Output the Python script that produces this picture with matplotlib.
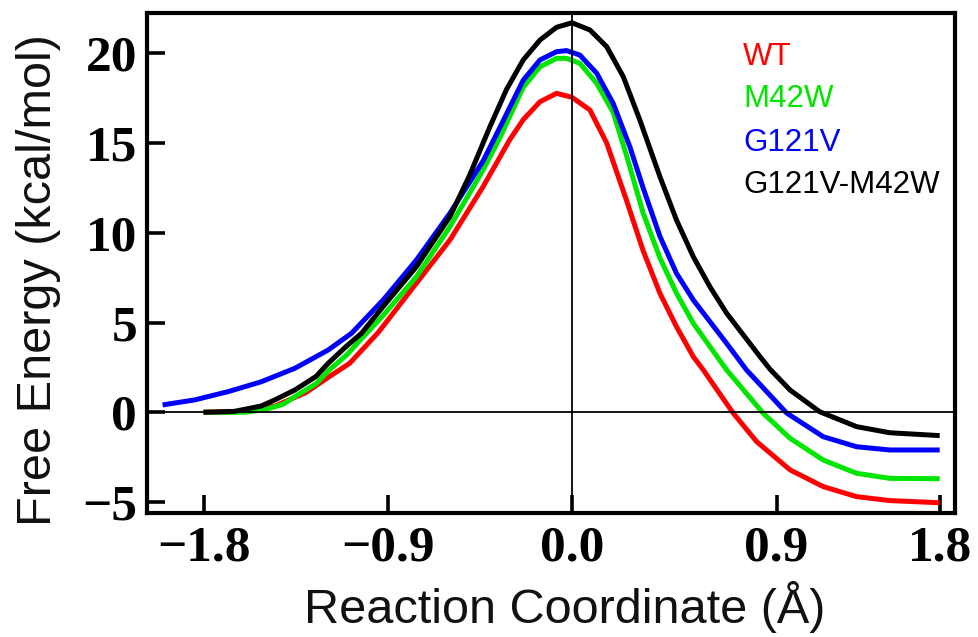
import matplotlib
matplotlib.use("Agg")
import matplotlib.pyplot as plt

# ---------------- data ----------------
series_names = ["WT", "M42W", "G121V", "G121V-M42W"]
series_colors = ["#ff0000", "#00e600", "#0000ff", "#000000"]

wt_x = [-1.80, -1.60, -1.45, -1.30, -1.19, -1.086, -0.946, -0.76, -0.596, -0.434,
        -0.303, -0.238, -0.156, -0.075, 0.0, 0.088, 0.17, 0.267, 0.348, 0.43,
        0.511, 0.593, 0.642, 0.70, 0.789, 0.903, 1.066, 1.228, 1.391, 1.553, 1.797]
wt_y = [0.0, 0.05, 0.35, 1.1, 1.95, 2.73, 4.45, 7.19, 9.6, 12.57,
        15.2, 16.3, 17.3, 17.77, 17.55, 16.84, 15.0, 11.8, 9.0, 6.63,
        4.77, 3.1, 2.36, 1.4, -0.06, -1.64, -3.21, -4.14, -4.70, -4.92, -5.04]

m42w_x = [-1.80, -1.60, -1.50, -1.411, -1.354, -1.249, -1.191, -1.10, -1.028, -0.922,
          -0.76, -0.596, -0.434, -0.352, -0.238, -0.156, -0.075, -0.026, 0.039, 0.121,
          0.202, 0.267, 0.348, 0.43, 0.511, 0.593, 0.756, 0.935, 1.066, 1.228, 1.391,
          1.553, 1.797]
m42w_y = [0.0, 0.0, 0.15, 0.45, 0.87, 1.6, 2.3, 3.2, 4.1, 5.4,
          7.55, 10.34, 13.5, 15.3, 18.1, 19.25, 19.72, 19.72, 19.44, 18.33,
          16.7, 14.3, 11.1, 8.6, 6.63, 4.96, 2.36, -0.06, -1.45, -2.66, -3.40,
          -3.68, -3.70]

g121v_x = [-2.0, -1.843, -1.680, -1.518, -1.354, -1.191, -1.077, -0.922, -0.76, -0.596,
           -0.434, -0.368, -0.238, -0.156, -0.075, -0.026, 0.039, 0.121, 0.202, 0.283,
           0.348, 0.43, 0.511, 0.593, 0.756, 0.853, 1.049, 1.228, 1.391, 1.553, 1.797]
g121v_y = [0.41, 0.69, 1.15, 1.70, 2.45, 3.47, 4.4, 6.26, 8.48, 11.09,
           14.0, 15.5, 18.5, 19.63, 20.09, 20.15, 19.9, 18.89, 17.2, 14.8,
           12.5, 9.8, 7.74, 6.26, 3.84, 2.36, -0.04, -1.36, -1.92, -2.1, -2.1]

dbl_x = [-1.80, -1.65, -1.518, -1.45, -1.354, -1.25, -1.191, -1.10, -1.028, -0.922,
         -0.76, -0.596, -0.5, -0.401, -0.319, -0.238, -0.156, -0.075, 0.0, 0.088,
         0.17, 0.251, 0.332, 0.43, 0.511, 0.593, 0.674, 0.756, 0.919, 0.968, 1.066,
         1.211, 1.391, 1.553, 1.797]
dbl_y = [0.0, 0.05, 0.35, 0.7, 1.24, 2.0, 2.73, 3.7, 4.4, 5.9,
         8.11, 10.9, 13.2, 15.9, 18.0, 19.63, 20.74, 21.45, 21.7, 21.3,
         20.37, 18.7, 16.28, 13.13, 10.71, 8.67, 7.0, 5.52, 3.1, 2.4, 1.24,
         0.03, -0.80, -1.14, -1.30]

xtick_pos = [-1.8, -0.9, 0.0, 1.0, 1.8]
xtick_labels = ["\u22121.8", "\u22120.9", "0.0", "0.9", "1.8"]
ytick_pos = [-5, 0, 5, 10, 15, 20]
ytick_labels = ["\u22125", "0", "5", "10", "15", "20"]

# ---------------- figure ----------------
fig = plt.figure(figsize=(9.79, 6.37), dpi=100)
ax = fig.add_axes([0.150, 0.1947, 0.8255, 0.7853])

xs = [wt_x, m42w_x, g121v_x, dbl_x]
ys = [wt_y, m42w_y, g121v_y, dbl_y]
for x, y, c, n in zip(xs, ys, series_colors, series_names):
    ax.plot(x, y, color=c, lw=3.6, solid_capstyle="butt", solid_joinstyle="round",
            label=n, zorder=3)

ax.axhline(0, color="black", lw=1.3, zorder=4)
ax.axvline(0, color="black", lw=1.3, zorder=4)

ax.set_xlim(-2.077, 1.872)
ax.set_ylim(-5.61, 22.26)

ax.set_xticks(xtick_pos)
ax.set_xticklabels(xtick_labels)
ax.set_yticks(ytick_pos)
ax.set_yticklabels(ytick_labels)

for lab in ax.get_xticklabels() + ax.get_yticklabels():
    lab.set_fontfamily("Liberation Serif")
    lab.set_fontweight("bold")
    lab.set_fontsize(37)

ax.tick_params(axis="both", direction="in", length=13, width=2.6,
               top=False, right=False)
ax.tick_params(axis="x", pad=9)
ax.tick_params(axis="y", pad=7)

for sp in ax.spines.values():
    sp.set_linewidth(3.0)

ax.set_xlabel("Reaction Coordinate (\u00c5)", family="Liberation Sans", fontsize=35,
              color="#111111")
ax.set_ylabel("Free Energy (kcal/mol)", family="Liberation Sans", fontsize=35,
              color="#111111")
ax.xaxis.label.set_va("center")
ax.yaxis.label.set_va("center")
ax.xaxis.set_label_coords(0.517, -0.188)
ax.yaxis.set_label_coords(-0.134, 0.466)

legend_y = [0.9115, 0.8275, 0.7406, 0.6556]
for n, c, yy in zip(series_names, series_colors, legend_y):
    ax.text(0.7376, yy, n, color=c, transform=ax.transAxes, family="Liberation Sans",
            fontsize=22.5, va="center", ha="left")

fig.savefig("out.png", dpi=100)
